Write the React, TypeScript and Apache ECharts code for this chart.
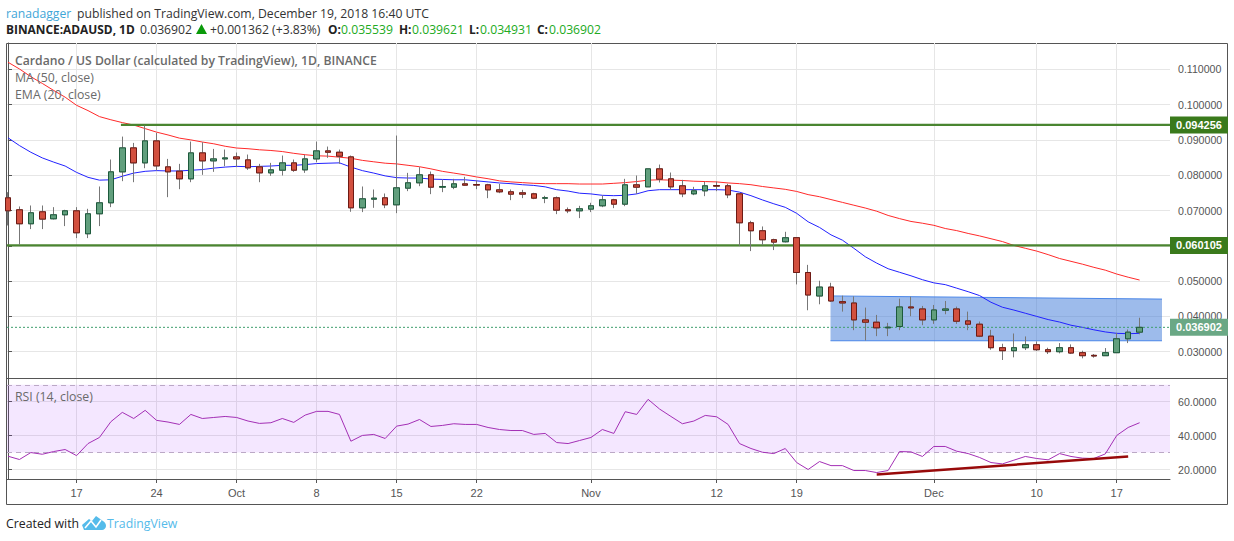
import React, { useEffect, useRef } from "react";
import * as echarts from "echarts";

const dates = [
  "Sep 11","Sep 12","Sep 13","Sep 14","Sep 15","Sep 16","Sep 17","Sep 18","Sep 19","Sep 20",
  "Sep 21","Sep 22","Sep 23","Sep 24","Sep 25","Sep 26","Sep 27","Sep 28","Sep 29","Sep 30",
  "Oct 1","Oct 2","Oct 3","Oct 4","Oct 5","Oct 6","Oct 7","Oct 8","Oct 9","Oct 10",
  "Oct 11","Oct 12","Oct 13","Oct 14","Oct 15","Oct 16","Oct 17","Oct 18","Oct 19","Oct 20",
  "Oct 21","Oct 22","Oct 23","Oct 24","Oct 25","Oct 26","Oct 27","Oct 28","Oct 29","Oct 30",
  "Oct 31","Nov 1","Nov 2","Nov 3","Nov 4","Nov 5","Nov 6","Nov 7","Nov 8","Nov 9",
  "Nov 10","Nov 11","Nov 12","Nov 13","Nov 14","Nov 15","Nov 16","Nov 17","Nov 18","Nov 19",
  "Nov 20","Nov 21","Nov 22","Nov 23","Nov 24","Nov 25","Nov 26","Nov 27","Nov 28","Nov 29",
  "Nov 30","Dec 1","Dec 2","Dec 3","Dec 4","Dec 5","Dec 6","Dec 7","Dec 8","Dec 9",
  "Dec 10","Dec 11","Dec 12","Dec 13","Dec 14","Dec 15","Dec 16","Dec 17","Dec 18","Dec 19",
];

const opens = [
  .07359,.0702,.06624,.06963,.06765,.06878,.06991,.06341,.06907,.07218,
  .08095,.08774,.08349,.08972,.08236,.08114,.07897,.08632,.08406,.08462,
  .08519,.08434,.08236,.08066,.08142,.08349,.08151,.08462,.08689,.08651,
  .08519,.07076,.07321,.07359,.07161,.07633,.07784,.0801,.0766,.07661,
  .07755,.07735,.07727,.07585,.07529,.07501,.07472,.0735,.07359,.0702,
  .06991,.07039,.07133,.07303,.0718,.07727,.0767,.0818,.07897,.07699,
  .07472,.07557,.07708,.07699,.07472,.06652,.06426,.06171,.06114,.0623,
  .05244,.04578,.04831,.04418,.0438,.03901,.03836,.03676,.03714,.04268,
  .04211,.03901,.04174,.04211,.03873,.03779,.03441,.03113,.03028,.03113,
  .03197,.03056,.03,.03113,.02972,.02897,.02887,.02972,.03366,.035539,
];
const closes = [
  .06991,.06624,.06935,.06756,.06878,.06991,.06369,.06907,.07218,.08095,
  .08774,.08349,.08972,.08264,.08095,.07897,.08632,.08406,.08462,.0849,
  .08462,.08208,.08066,.08151,.08349,.08142,.08462,.08689,.08651,.08538,
  .07076,.07331,.0735,.07161,.07642,.07784,.0801,.07661,.0768,.07755,
  .07718,.0772,.07585,.07529,.07463,.07463,.0735,.0736,.0701,.06991,
  .07048,.07133,.07303,.0718,.07727,.07661,.0818,.07887,.0767,.07472,
  .07557,.07699,.0769,.07444,.06652,.06426,.06171,.06105,.06228,.05244,
  .04606,.04831,.04437,.0438,.03901,.03836,.03676,.03695,.04268,.0424,
  .03901,.04183,.04211,.03864,.03779,.03441,.03113,.03028,.03113,.03197,
  .03056,.03,.03113,.02962,.02887,.02878,.02972,.03366,.03554,.036902,
];
const lows = [
  .06576,.0603,.06473,.06473,.06746,.06558,.06218,.06218,.06558,.07095,
  .07831,.07802,.08198,.08132,.07378,.07604,.07802,.0801,.08095,.08255,
  .08227,.08151,.07802,.07982,.07991,.08095,.08066,.08368,.08491,.08321,
  .06963,.06954,.07076,.07067,.06925,.07548,.07689,.07463,.0752,.07604,
  .07699,.07604,.0735,.07491,.07293,.0735,.07321,.07208,.06897,.06925,
  .06784,.06954,.07095,.07067,.07123,.07472,.0767,.07793,.07585,.07378,
  .07435,.07406,.07548,.0735,.06001,.0585,.0602,.05879,.06095,.04906,
  .04174,.04343,.04408,.04136,.0361,.03319,.03441,.03441,.0361,.04005,
  .03751,.03789,.04061,.03789,.0361,.03413,.03056,.02765,.0284,.03047,
  .03019,.02934,.02953,.02934,.02812,.02831,.02878,.02972,.03244,.034931,
];
const highs = [
  .07519,.07114,.07142,.07142,.07095,.0702,.07095,.07048,.0768,.08444,
  .09094,.08915,.09405,.09198,.08462,.08321,.08953,.08934,.08745,.08727,
  .08642,.08585,.08321,.08349,.08557,.08444,.08576,.08953,.08811,.08727,
  .08557,.0768,.07595,.07482,.09123,.08066,.08227,.08104,.07878,.07897,
  .07953,.0785,.07755,.07755,.07595,.07585,.07501,.07416,.07397,.07086,
  .07133,.07218,.07425,.07331,.07897,.07991,.0818,.08302,.08076,.07868,
  .0767,.07812,.07821,.07755,.07472,.06708,.06548,.062,.06397,.0623,
  .0546,.0501,.04953,.04587,.04568,.04249,.04042,.03817,.04502,.04559,
  .04296,.04324,.04437,.04277,.04136,.03854,.0362,.03225,.03516,.03432,
  .03291,.03113,.03244,.03207,.03028,.02934,.03103,.03535,.03629,.039621,
];

const ma50 = [
  .1120,.1101,.1079,.1060,.1040,.1021,.0998,.0983,.0966,.0957,
  .0949,.0942,.0932,.0922,.0914,.0905,.0900,.0894,.0889,.0882,
  .0877,.0875,.0872,.0870,.0867,.0862,.0858,.0855,.0854,.0851,
  .0848,.0842,.0838,.0834,.0832,.0828,.0824,.0818,.0811,.0806,
  .0801,.0795,.0790,.0784,.0781,.0779,.0777,.0776,.0776,.0776,
  .0775,.0775,.0775,.0777,.0779,.0782,.0786,.0787,.0786,.0785,
  .0783,.0782,.0781,.0778,.0776,.0773,.0768,.0764,.0760,.0754,
  .0745,.0739,.0731,.0723,.0715,.0707,.0698,.0686,.0677,.0669,
  .0664,.0658,.0649,.0643,.0635,.0628,.0620,.0612,.0601,.0593,
  .0585,.0575,.0564,.0556,.0548,.0539,.0531,.0520,.0511,.0503,
];
const ema20 = [
  .0906,.0884,.0865,.0849,.0837,.0826,.0808,.0794,.0786,.0787,
  .0797,.0806,.0811,.0813,.0812,.0812,.0814,.0816,.0820,.0823,
  .0825,.0824,.0825,.0826,.0828,.0828,.0830,.0833,.0834,.0835,
  .0823,.0813,.0806,.0798,.0793,.0792,.0792,.0789,.0788,.0787,
  .0787,.0784,.0781,.0778,.0776,.0773,.0771,.0767,.0759,.0755,
  .0749,.0747,.0743,.0742,.0743,.0747,.0756,.0759,.0759,.0759,
  .0759,.0759,.0759,.0758,.0752,.0742,.0730,.0719,.0709,.0692,
  .0668,.0652,.0631,.0616,.0593,.0569,.0551,.0535,.0525,.0515,
  .0504,.0495,.0490,.0480,.0470,.0459,.0440,.0426,.0418,.0409,
  .0400,.0391,.0384,.0375,.0369,.0362,.0356,.0352,.0351,.0352,
];
const rsi14 = [
  27.85,25.9,30.0,29.0,30.6,31.8,28.2,35.3,38.9,48.2,
  53.7,50.1,54.9,49.0,48.0,46.6,52.5,50.1,50.7,51.3,
  50.7,48.6,47.2,47.6,50.1,47.8,52.1,54.3,54.3,52.5,
  36.7,40.1,40.7,38.3,45.6,46.8,49.5,45.4,46.0,47.0,
  46.6,46.6,44.8,43.6,43.0,43.0,40.7,41.3,35.9,35.3,
  37.1,38.9,43.6,41.3,54.1,52.5,61.4,55.7,51.3,47.0,
  48.6,51.9,51.1,46.6,35.3,32.4,30.2,29.4,32.4,24.1,
  20.0,24.7,22.3,22.3,19.4,19.4,18.2,19.4,30.6,30.4,
  27.7,33.6,33.6,30.8,29.4,27.1,24.1,23.3,25.5,27.7,
  26.5,25.7,29.4,27.7,26.7,26.5,29.2,40.1,44.8,47.6,
];

const tickDays = ["Sep 17","Sep 24","Oct 1","Oct 8","Oct 15","Oct 22","Nov 1","Nov 12","Nov 19","Dec 1","Dec 10","Dec 17"];
const tickLabels = ["17","24","Oct","8","15","22","Nov","12","19","Dec","10","17"];
const priceTicks = [0.03,0.04,0.05,0.06,0.07,0.08,0.09,0.1,0.11];
const priceLabels = [0.03,0.04,0.05,0.07,0.08,0.09,0.1,0.11];
const rsiTicks = [20,40,60];

const resistance = 0.094256;
const support = 0.060105;
const lastClose = 0.036902;
const boxTopLeft = 0.0458;
const boxTopRight = 0.0449;
const boxBottom = 0.0331;
const trendStart = 17.0;
const trendEnd = 27.65;

const tickIndex = tickDays.map((d) => dates.indexOf(d));
const xMin = -0.087;
const xMax = 101.66;
const GREY = "#555555";
const TEXT = "Open Sans, Noto Sans, sans-serif";
const NUM = "Liberation Sans, Arial, sans-serif";
const rising = "#619f7d";
const falling = "#d2503f";

function levelSeries(v: number, start: number, color: string, lineColor: string, width: number, dashed: boolean) {
  return {
    type: "line",
    xAxisIndex: 0,
    yAxisIndex: 0,
    showSymbol: false,
    silent: true,
    z: dashed ? 4 : 5,
    data: [[start, v],[xMax, v]],
    lineStyle: { color: lineColor, width, type: dashed ? [2, 2] : "solid" },
    endLabel: {
      show: true,
      formatter: () => v.toFixed(6),
      distance: 0,
      offset: [29, 0],
      color: "#ffffff",
      backgroundColor: color,
      fontFamily: NUM,
      fontSize: 11,
      fontWeight: "bold",
      width: 58,
      height: 17,
      lineHeight: 17,
      align: "center",
      verticalAlign: "middle",
    },
  };
}

function text(x: number, y: number, s: string, fill: string, font: string) {
  return { type: "text", x, y, silent: true, z: 50, style: { text: s, fill, font, textVerticalAlign: "middle" } };
}

const cloudPath = "M0 9 L7 3 L10 5 L14 0 L21 5 C23 6 24 8 24 10 C24 12 22 14 20 14 L2 14 Z";

export default function App() {
  const ref = useRef<HTMLDivElement | null>(null);
  useEffect(() => {
    document.body.style.margin = "0";
    echarts.graphic.registerShape("tvcloud", echarts.graphic.extendPath(cloudPath, {}) as any);
    const chart = echarts.init(ref.current!, undefined, { renderer: "svg" });
    const idx = dates.map((_, i) => i);
    const candles = idx.map((i) => [i, opens[i], closes[i], lows[i], highs[i]]);
    const bodies = idx.map((i) => [i, opens[i], closes[i], Math.min(opens[i], closes[i]), Math.max(opens[i], closes[i])]);
    const trendI0 = dates.indexOf("Nov 26");
    const trendI1 = dates.indexOf("Dec 18");
    const boxI0 = dates.indexOf("Nov 22") - 0.04;
    const boxI1 = 100.96;
    const resStart = dates.indexOf("Sep 20") + 0.88;

    const baseX = (gridIndex: number) => ({
      type: "value",
      gridIndex,
      min: xMin,
      max: xMax,
      splitLine: { show: true, lineStyle: { color: "#e6e6e6", width: 1 } },
      axisTick: { show: gridIndex === 1, length: 4, lineStyle: { color: GREY }, customValues: tickIndex },
      axisLine: { show: gridIndex === 1, onZero: false, lineStyle: { color: GREY, width: 1 } },
      axisLabel: {
        show: gridIndex === 1,
        customValues: tickIndex,
        margin: 8,
        color: GREY,
        fontFamily: NUM,
        fontSize: 11,
        formatter: (v: number) => tickLabels[tickIndex.indexOf(Math.round(v))] ?? "",
      },
    });

    chart.setOption({
      animation: false,
      backgroundColor: "#ffffff",
      grid: [
        { left: 7, width: 1163, top: 43, height: 335 },
        { left: 7, width: 1163, top: 379, height: 100 },
      ],
      xAxis: [baseX(0), baseX(1)],
      yAxis: [
        {
          type: "value",
          gridIndex: 0,
          position: "right",
          min: 0.02255,
          max: 0.11745,
          splitLine: { show: true, lineStyle: { color: "#e6e6e6", width: 1 } },
          axisLine: { show: true, lineStyle: { color: GREY, width: 1 } },
          axisTick: { show: true, length: 4, lineStyle: { color: GREY }, customValues: priceTicks },
          axisLabel: { customValues: priceLabels, margin: 8, color: GREY, fontFamily: NUM, fontSize: 10.6, formatter: (v: number) => v.toFixed(6) },
        },
        {
          type: "value",
          gridIndex: 1,
          position: "right",
          min: 14.4,
          max: 73.4,
          splitLine: { show: true, lineStyle: { color: "#e6e6e6", width: 1 } },
          axisLine: { show: true, lineStyle: { color: GREY, width: 1 } },
          axisTick: { show: true, length: 4, lineStyle: { color: GREY }, customValues: rsiTicks },
          axisLabel: { customValues: rsiTicks, margin: 8, color: GREY, fontFamily: NUM, fontSize: 10.6, formatter: (v: number) => v.toFixed(4) },
        },
      ],
      series: [
        {
          type: "custom",
          xAxisIndex: 0,
          yAxisIndex: 0,
          silent: true,
          z: 3,
          clip: true,
          data: [[boxI0, boxTopLeft, boxBottom],[boxI1, boxTopRight, boxBottom]],
          encode: { x: 0, y: [1, 2] },
          renderItem: (params: any, api: any) => {
            if (params.dataIndex !== 0) return { type: "group", children: [] };
            const tl = api.coord([boxI0, boxTopLeft]);
            const tr = api.coord([boxI1, boxTopRight]);
            const br = api.coord([boxI1, boxBottom]);
            const bl = api.coord([boxI0, boxBottom]);
            return {
              type: "group",
              children: [
                { type: "polygon", shape: { points: [tl, tr, br, bl] }, style: { fill: "rgba(60,120,216,0.5)", stroke: "none" } },
                { type: "polyline", shape: { points: [tl, tr] }, style: { fill: "none", stroke: "#4a86e8", lineWidth: 1 } },
                { type: "polyline", shape: { points: [bl, br] }, style: { fill: "none", stroke: "#4a86e8", lineWidth: 1 } },
              ],
            };
          },
        },
        {
          type: "line", name: "MA", xAxisIndex: 0, yAxisIndex: 0, showSymbol: false, silent: true, z: 4,
          data: idx.map((i) => [i, ma50[i]]), lineStyle: { color: "#ff2a2a", width: 1 },
        },
        {
          type: "line", name: "EMA", xAxisIndex: 0, yAxisIndex: 0, showSymbol: false, silent: true, z: 4,
          data: idx.map((i) => [i, ema20[i]]), lineStyle: { color: "#2222ff", width: 1 },
        },
        {
          type: "candlestick", xAxisIndex: 0, yAxisIndex: 0, barWidth: 6, silent: true, z: 6,
          data: candles, encode: { x: 0, y: [1, 2, 3, 4] },
          itemStyle: { color: rising, color0: falling, borderColor: "#777777", borderColor0: "#777777", borderWidth: 1 },
        },
        {
          type: "candlestick", xAxisIndex: 0, yAxisIndex: 0, barWidth: 6, silent: true, z: 7,
          data: bodies, encode: { x: 0, y: [1, 2, 3, 4] },
          itemStyle: { color: rising, color0: falling, borderColor: "#1d5a3c", borderColor0: "#6e1a14", borderWidth: 1 },
        },
        levelSeries(resistance, resStart, "#3a7a1c", "#4a8530", 2.2, false),
        levelSeries(support, xMin, "#3a7a1c", "#4a8530", 2.2, false),
        levelSeries(lastClose, xMin, "#6aa885", "#3f9e6e", 1, true),
        {
          type: "line", name: "RSI", xAxisIndex: 1, yAxisIndex: 1, showSymbol: false, silent: true, z: 5,
          data: idx.map((i) => [i, rsi14[i]]), lineStyle: { color: "#a32fb5", width: 1 },
          markArea: {
            silent: true,
            itemStyle: { color: "rgba(153,40,255,0.11)" },
            data: [[{ yAxis: 30 }, { yAxis: 70 }]],
          },
          markLine: {
            silent: true, symbol: "none", label: { show: false },
            lineStyle: { color: "#bba8c6", type: [5, 4], width: 1 },
            data: [{ yAxis: 30 }, { yAxis: 70 }],
          },
        },
        {
          type: "line", name: "RSI trend", xAxisIndex: 1, yAxisIndex: 1, showSymbol: false, silent: true, z: 6,
          data: [[trendI0, trendStart],[trendI1, trendEnd]], lineStyle: { color: "#980a0a", width: 2.5 },
        },
      ],
      graphic: [
        { type: "rect", silent: true, z: -1, shape: { x: 6.5, y: 43.5, width: 1221, height: 461 }, style: { fill: "none", stroke: GREY, lineWidth: 1 } },
        { type: "line", silent: true, z: 40, shape: { x1: 6.5, y1: 378.5, x2: 1227, y2: 378.5 }, style: { stroke: GREY, lineWidth: 1 } },
        text(6, 13, "ranadagger", "#3fa6d8", `12.2px ${TEXT}`),
        text(77, 13, "published on TradingView.com, December 19, 2018 16:40 UTC", "#333333", `12.2px ${TEXT}`),
        text(6, 29, "BINANCE:ADAUSD, 1D", "#222222", `bold 11.9px ${TEXT}`),
        text(140, 29, "0.036902", "#333333", `12.2px ${TEXT}`),
        { type: "polygon", silent: true, z: 50, shape: { points: [[196, 34],[207, 34],[201.5, 24]] }, style: { fill: "#0a9a0a" } },
        text(210, 29, "+0.001362 (+3.83%)", "#333333", `12.2px ${TEXT}`),
        text(328, 29, "O:", "#222222", `bold 11.9px ${TEXT}`),
        text(341, 29, "0.035539", "#22aa22", `12.2px ${TEXT}`),
        text(399, 29, "H:", "#222222", `bold 11.9px ${TEXT}`),
        text(412, 29, "0.039621", "#22aa22", `12.2px ${TEXT}`),
        text(469, 29, "L:", "#222222", `bold 11.9px ${TEXT}`),
        text(480, 29, "0.034931", "#22aa22", `12.2px ${TEXT}`),
        text(537, 29, "C:", "#222222", `bold 11.9px ${TEXT}`),
        text(549, 29, "0.036902", "#22aa22", `12.2px ${TEXT}`),
        text(15, 60, "Cardano / US Dollar (calculated by TradingView), 1D, BINANCE", "#6a6a6a", `600 12.2px ${TEXT}`),
        text(15, 77, "MA (50, close)", "#6a6a6a", `12.3px ${TEXT}`),
        text(15, 94, "EMA (20, close)", "#6a6a6a", `12.3px ${TEXT}`),
        text(15, 396, "RSI (14, close)", "#6a6a6a", `12.3px ${TEXT}`),
        text(6, 523, "Created with", "#222222", `12.3px ${TEXT}`),
        { type: "tvcloud", silent: true, z: 50, x: 82, y: 516, style: { fill: "#55bbea" } },
        { type: "polyline", silent: true, z: 51, shape: { points: [[85, 528],[91, 521],[96, 527],[101, 520]] }, style: { fill: "none", stroke: "#ffffff", lineWidth: 1.6 } },
        text(107, 523, "TradingView", "#55bbea", `12.3px ${TEXT}`),
      ],
    });
    return () => chart.dispose();
  }, []);
  return <div ref={ref} style={{ position: "absolute", left: 0, top: 0, width: 1234, height: 541 }} />;
}
